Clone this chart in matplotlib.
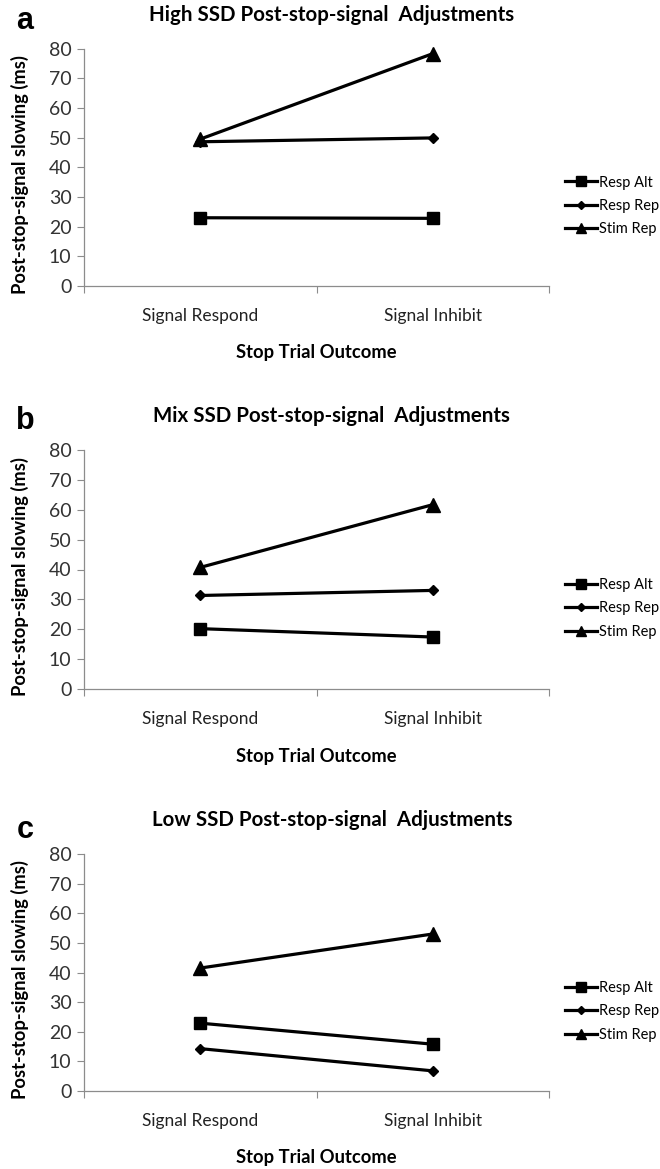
import matplotlib
matplotlib.use("Agg")
import matplotlib.pyplot as plt
from matplotlib.lines import Line2D

plt.rcParams['font.family'] = ['Lato', 'DejaVu Sans']

categories = ['Signal Respond', 'Signal Inhibit']
series_names = ['Resp Alt', 'Resp Rep', 'Stim Rep']

# panel a - High SSD
high_resp_alt = [23.0, 22.8]
high_resp_rep = [48.6, 49.9]
high_stim_rep = [49.5, 78.3]

# panel b - Mix SSD
mix_resp_alt = [20.2, 17.4]
mix_resp_rep = [31.3, 33.0]
mix_stim_rep = [40.7, 61.7]

# panel c - Low SSD
low_resp_alt = [22.9, 15.8]
low_resp_rep = [14.3, 6.8]
low_stim_rep = [41.5, 53.0]

titles = ['High SSD Post-stop-signal  Adjustments',
          'Mix SSD Post-stop-signal  Adjustments',
          'Low SSD Post-stop-signal  Adjustments']
letters = ['a', 'b', 'c']
yticks = [0, 10, 20, 30, 40, 50, 60, 70, 80]

W, H = 660, 1169
fig = plt.figure(figsize=(W / 100, H / 100), dpi=100)

# axes boxes in pixels: left, top, right, bottom
boxes = [(84, 48.6, 549, 286), (84, 450, 549, 689), (84, 854, 549, 1091)]
letter_y = [21, 421, 830]

markers = {'Resp Alt': ('s', 9), 'Resp Rep': ('D', 5.5), 'Stim Rep': ('^', 9.5)}
panels = [
    (high_resp_alt, high_resp_rep, high_stim_rep),
    (mix_resp_alt, mix_resp_rep, mix_stim_rep),
    (low_resp_alt, low_resp_rep, low_stim_rep),
]

gray = '#8c8c8c'
txt = '#333333'

for i, (l, t, r, b) in enumerate(boxes):
    ax = fig.add_axes([l / W, (H - b) / H, (r - l) / W, (b - t) / H])
    x = range(len(categories))
    for name, vals in zip(series_names, panels[i]):
        m, ms = markers[name]
        ax.plot(x, vals, color='black', lw=2.3, marker=m, ms=ms,
                markeredgecolor='black', markerfacecolor='black', label=name,
                clip_on=False)
    ax.set_xlim(-0.5, 1.5)
    ax.set_ylim(0, 80)
    ax.set_yticks(yticks)
    ax.set_xticks([0, 1])
    ax.set_xticklabels(categories, fontsize=12.5, color='#222222')
    ax.set_xticks([-0.5, 0.5, 1.5], minor=True)
    ax.tick_params(axis='x', which='major', length=0, pad=16)
    ax.tick_params(axis='x', which='minor', length=5, color=gray, width=0.8)
    ax.tick_params(axis='y', length=5, color=gray, width=0.8, pad=4,
                   labelsize=14, labelcolor=txt)
    for s in ['top', 'right']:
        ax.spines[s].set_visible(False)
    for s in ['left', 'bottom']:
        ax.spines[s].set_color(gray)
        ax.spines[s].set_linewidth(0.9)
    ax.set_ylabel('Post-stop-signal slowing (ms)', fontsize=13.2, fontweight='bold')
    ax.yaxis.set_label_coords(-0.118, 0.47)
    ax.set_xlabel('Stop Trial Outcome', fontsize=13.2, fontweight='bold')
    ax.xaxis.set_label_coords(0.5, -0.245)
    ax.text(0.533, 1 + 34 / (b - t), titles[i], transform=ax.transAxes,
            ha='center', va='center', fontsize=14.8, fontweight='bold')
    fig.text(25 / W, 1 - letter_y[i] / H, letters[i], ha='center', va='center',
             fontsize=22, fontweight='bold', family='Liberation Sans')
    handles = [Line2D([0], [0], color='black', lw=2.3, marker=markers[n][0],
                      ms=markers[n][1] * 0.8, markerfacecolor='black')
               for n in series_names]
    ax.legend(handles, series_names, loc='center left', frameon=False,
              bbox_to_anchor=((565 - 84) / (r - l), 0.337), borderaxespad=0,
              borderpad=0, handlelength=2.2, handletextpad=0.1,
              labelspacing=0.65, fontsize=10.5)

fig.savefig('out.png', dpi=100)
